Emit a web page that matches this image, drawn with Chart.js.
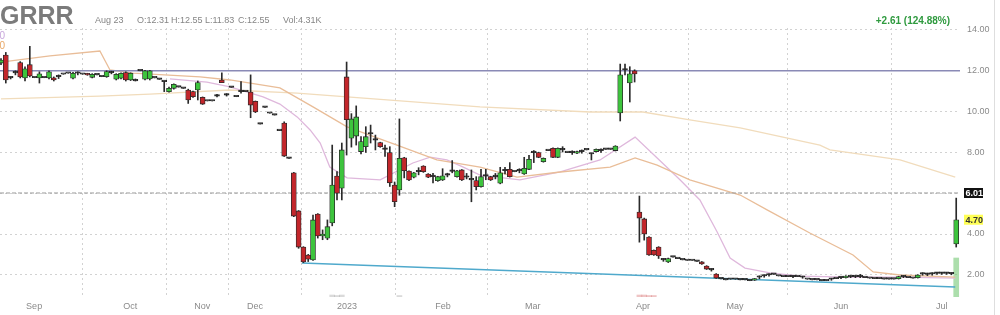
<!DOCTYPE html>
<html>
<head>
<meta charset="utf-8">
<script src="https://cdn.jsdelivr.net/npm/chart.js@4.4.0/dist/chart.umd.min.js"></script>
<style>
  html, body { margin: 0; padding: 0; background: #fff; }
  canvas { display: block; }
</style>
</head>
<body>
<canvas id="grafico" width="1000" height="315"></canvas>
<script>
// eixo x: um slot por pregão, meses nas posições abaixo
const monthLabels = ['Sep', 'Oct', 'Nov', 'Dec', '2023', 'Feb', 'Mar', 'Apr', 'May', 'Jun', 'Jul'];
const monthSlots = [6.9, 26.9, 41.9, 52.9, 72.1, 92.1, 110.8, 133.75, 152.9, 175, 196];
const yTicks = [2, 4, 6, 8, 10, 12, 14];

const opens = [
  12.38, 12.77, 11.65, 11.9, 12.4, 11.65, 12.3, 11.66, 11.65, 11.66,
  11.65, 11.66, 11.71, 11.83, 11.88, 11.64, 11.88, 11.83, 11.85, 11.68,
  11.8, 11.71, 11.71, 11.91, 11.59, 11.64, 11.91, 11.55, 11.51, 12.0,
  11.59, 11.6, 11.65, 11.58, 11.47, 10.98, 11.14, 11.2, 11.14, 11.06,
  10.98, 11.06, 10.7, 10.52, 10.52, 10.76, 11.55, 10.81, 11.19, 10.73,
  10.98, 10.98, 10.96, 10.5, 9.39, 10.21, 9.92, 9.83, 9.07, 9.44,
  7.71, 7.0, 5.13, 3.36, 2.97, 2.73, 4.98, 3.9, 3.79, 4.54,
  6.84, 6.25, 11.7, 8.7, 8.8, 8.04, 8.28, 8.9, 8.6, 8.48,
  8.15, 7.99, 6.4, 6.16, 7.74, 7.09, 6.78, 7.05, 7.33, 6.94,
  6.81, 6.61, 6.65, 6.89, 7.07, 6.81, 7.14, 6.78, 6.65, 6.62,
  6.32, 6.84, 6.81, 6.81, 6.49, 7.1, 7.17, 7.05, 7.1, 6.94,
  7.17, 7.99, 7.99, 7.54, 8.09, 8.2, 7.76, 8.12, 7.99, 7.99,
  7.96, 8.04, 8.12, 7.92, 8.04, 8.09, 8.15, 8.15, 8.09, 9.93,
  12.04, 11.4, 12.0, 5.08, 4.74, 3.85, 3.2, 3.36, 2.73, 2.63,
  2.87, 2.79, 2.73, 2.7, 2.7, 2.66, 2.63, 2.43, 2.24, 2.04,
  1.8, 1.75, 1.78, 1.78, 1.75, 1.75, 1.71, 1.74, 1.88, 1.94,
  1.99, 2.02, 1.94, 1.91, 1.91, 1.91, 1.91, 1.88, 1.78, 1.75,
  1.75, 1.71, 1.71, 1.78, 1.81, 1.86, 1.86, 1.91, 1.91, 1.91,
  1.86, 1.83, 1.81, 1.81, 1.79, 1.79, 1.79, 1.81, 1.91, 1.86,
  1.83, 1.86, 2.04, 2.02, 2.04, 2.07, 2.07, 2.07, 2.05, 3.51
];
const highs = [
  12.6, 12.9, 11.7, 12.0, 12.45, 12.2, 13.2, 11.66, 11.95, 11.66,
  12.0, 11.7, 11.8, 11.83, 11.88, 11.92, 11.95, 11.83, 11.88, 11.86,
  11.8, 11.71, 12.0, 11.98, 11.86, 11.9, 11.95, 11.9, 11.6, 12.0,
  12.02, 12.02, 11.65, 11.58, 11.5, 11.2, 11.36, 11.2, 11.14, 11.1,
  11.0, 11.5, 10.72, 10.52, 10.52, 10.85, 11.9, 10.88, 11.19, 10.73,
  11.47, 10.98, 11.8, 10.52, 9.39, 10.21, 9.92, 9.83, 9.07, 9.5,
  7.71, 7.02, 5.15, 3.38, 3.0, 4.93, 5.0, 4.2, 4.69, 8.36,
  7.06, 8.46, 12.43, 9.9, 10.28, 8.77, 9.26, 9.34, 8.85, 8.5,
  8.36, 8.28, 6.55, 9.64, 7.76, 7.1, 7.02, 7.25, 7.35, 6.96,
  6.98, 6.83, 7.2, 6.98, 7.6, 7.12, 7.16, 6.97, 7.14, 6.81,
  7.17, 7.17, 6.83, 6.97, 7.27, 7.27, 7.5, 7.05, 7.2, 7.76,
  7.86, 8.09, 8.01, 7.73, 8.09, 8.22, 8.22, 8.28, 7.99, 8.08,
  8.06, 8.12, 8.12, 7.95, 8.17, 8.18, 8.15, 8.15, 8.33, 12.33,
  12.33, 12.2, 12.05, 5.86, 4.78, 3.87, 3.22, 3.38, 2.8, 2.82,
  2.87, 2.79, 2.73, 2.7, 2.7, 2.66, 2.65, 2.45, 2.3, 2.06,
  1.8, 1.75, 1.78, 1.78, 1.75, 1.75, 1.71, 1.82, 1.95, 2.0,
  2.05, 2.02, 1.94, 1.91, 1.91, 1.96, 1.91, 1.93, 1.78, 1.75,
  1.75, 1.71, 1.71, 1.83, 1.81, 1.9, 1.96, 1.96, 1.96, 2.02,
  1.86, 1.83, 1.81, 1.81, 1.79, 1.79, 1.79, 1.93, 1.96, 1.86,
  1.83, 2.01, 2.1, 2.08, 2.1, 2.12, 2.12, 2.12, 2.1, 5.76
];
const lows = [
  12.3, 11.4, 11.6, 11.8, 11.65, 11.5, 11.7, 11.66, 11.4, 11.66,
  11.6, 11.5, 11.62, 11.83, 11.88, 11.6, 11.8, 11.83, 11.78, 11.65,
  11.8, 11.71, 11.68, 11.85, 11.55, 11.6, 11.5, 11.52, 11.5, 12.0,
  11.55, 11.55, 11.65, 11.58, 10.98, 10.95, 11.1, 11.2, 11.14, 10.4,
  10.7, 10.57, 10.35, 10.52, 10.52, 10.72, 11.42, 10.76, 11.19, 10.73,
  10.9, 10.98, 9.7, 9.95, 9.39, 10.21, 9.92, 9.83, 9.07, 7.8,
  7.71, 4.85, 3.3, 2.6, 2.65, 2.7, 3.8, 3.72, 3.72, 4.4,
  5.67, 5.67, 7.87, 8.26, 8.36, 7.92, 8.0, 8.46, 8.12, 8.25,
  7.8, 6.33, 5.34, 5.9, 6.75, 6.62, 6.75, 6.9, 7.02, 6.76,
  6.5, 6.58, 6.62, 6.8, 7.0, 6.78, 6.62, 6.7, 5.58, 6.16,
  6.3, 6.66, 6.62, 6.7, 6.46, 6.95, 6.79, 7.05, 7.0, 6.92,
  7.15, 7.5, 7.74, 7.52, 8.09, 7.74, 7.74, 8.02, 7.99, 7.9,
  7.94, 7.96, 8.12, 7.63, 8.02, 8.0, 8.15, 8.15, 8.07, 9.54,
  11.8, 10.47, 11.45, 3.6, 3.7, 2.95, 2.95, 2.8, 2.66, 2.6,
  2.87, 2.79, 2.73, 2.7, 2.7, 2.66, 2.51, 2.26, 2.18, 1.82,
  1.8, 1.75, 1.78, 1.78, 1.75, 1.75, 1.71, 1.72, 1.8, 1.88,
  1.93, 2.02, 1.94, 1.91, 1.91, 1.86, 1.91, 1.83, 1.78, 1.75,
  1.75, 1.71, 1.71, 1.73, 1.81, 1.81, 1.84, 1.86, 1.86, 1.86,
  1.86, 1.83, 1.81, 1.81, 1.79, 1.79, 1.79, 1.79, 1.86, 1.86,
  1.83, 1.84, 1.98, 1.96, 1.98, 2.02, 2.02, 2.02, 2.0, 3.36
];
const closes = [
  12.53, 11.55, 11.65, 11.9, 11.7, 12.1, 11.75, 11.66, 11.85, 11.66,
  11.95, 11.55, 11.71, 11.83, 11.88, 11.88, 11.88, 11.83, 11.8, 11.83,
  11.8, 11.71, 11.96, 11.91, 11.83, 11.88, 11.55, 11.88, 11.51, 12.0,
  12.0, 12.0, 11.65, 11.58, 11.47, 11.14, 11.34, 11.2, 11.14, 10.57,
  10.73, 11.42, 10.37, 10.52, 10.52, 10.76, 11.42, 10.81, 11.19, 10.73,
  10.98, 10.98, 10.32, 9.98, 9.39, 10.21, 9.92, 9.83, 9.07, 7.82,
  7.71, 4.88, 3.36, 2.63, 2.77, 4.69, 3.9, 4.0, 4.36, 6.4,
  6.0, 8.12, 9.6, 9.64, 9.74, 8.53, 8.77, 8.9, 8.6, 8.28,
  8.15, 6.51, 5.58, 7.71, 7.1, 6.65, 7.0, 7.05, 7.05, 6.78,
  6.81, 6.81, 6.85, 6.89, 7.07, 7.1, 6.65, 6.78, 6.65, 6.32,
  6.81, 6.84, 6.65, 6.81, 7.0, 7.1, 6.81, 7.05, 7.1, 7.22,
  7.66, 7.99, 7.76, 7.71, 8.09, 7.76, 8.2, 8.12, 7.99, 7.99,
  8.04, 8.04, 8.12, 7.92, 8.15, 8.09, 8.15, 8.15, 8.31, 11.8,
  12.04, 11.85, 11.85, 4.78, 4.0, 2.97, 2.97, 2.92, 2.73, 2.8,
  2.87, 2.79, 2.73, 2.7, 2.7, 2.66, 2.53, 2.28, 2.24, 1.84,
  1.8, 1.75, 1.78, 1.78, 1.75, 1.75, 1.71, 1.8, 1.88, 1.94,
  1.99, 2.02, 1.94, 1.91, 1.91, 1.91, 1.91, 1.88, 1.78, 1.75,
  1.75, 1.71, 1.71, 1.78, 1.81, 1.86, 1.94, 1.91, 1.91, 1.91,
  1.86, 1.83, 1.81, 1.81, 1.79, 1.79, 1.79, 1.91, 1.91, 1.86,
  1.83, 1.99, 2.04, 2.02, 2.04, 2.07, 2.07, 2.07, 2.05, 4.70
];

// volume: só as barras que aparecem
const volIdx = [69, 70, 71, 83, 133, 134, 135, 136, 199];
const volVals = [2, 1.5, 2, 1.5, 2, 2, 1.5, 1.5, 39];

// médias móveis [slot, valor]
const maTan = [[0, 10.62], [20.6, 10.76], [31, 10.86], [47.7, 11.06], [61.7, 10.91], [72.1, 10.72],
  [99.8, 10.23], [122.7, 9.98], [133.75, 9.98], [143.5, 9.59], [154, 9.2], [170.6, 8.36],
  [172.7, 8.12], [187.3, 7.63], [198.8, 6.79]];
const maOrange = [[0, 12.43], [10.2, 12.73], [20.6, 12.97], [22.7, 12.04], [27.5, 11.89], [41.5, 11.7],
  [47.7, 11.55], [58.1, 11.16], [65, 10.23], [72.1, 9.25], [82.5, 8.36], [90.8, 7.63], [99.8, 7.28],
  [107.5, 6.79], [116.5, 7.04], [126.9, 7.28], [132.1, 7.73], [136.7, 7.38], [143.5, 6.65],
  [154, 5.91], [159.6, 5.18], [168.5, 4.05], [177.5, 2.97], [181.7, 2.14], [187.3, 1.99], [198.8, 1.89]];
const maPink = [[35.2, 11.6], [42.9, 11.45], [47.7, 11.21], [54.6, 10.72], [58.1, 10.37], [61.7, 9.74],
  [64.4, 9.1], [66.5, 8.46], [68.5, 7.28], [72.1, 6.75], [79, 6.65], [85.8, 7.48], [89.4, 7.77],
  [92.9, 7.63], [96.3, 7.28], [99.8, 6.89], [108.1, 6.65], [116.5, 7.04], [124.8, 7.63], [132.1, 8.75],
  [136.7, 7.73], [141.5, 6.65], [145.6, 5.67], [149.2, 4.1], [151.9, 2.82], [155, 2.33], [160.2, 2.09],
  [166.5, 1.94], [176.9, 1.89], [187.3, 1.89], [198.8, 1.84]];

const resistencia = 12.00;
const linhaUltimo = 6.01;
const ultimoFech = 4.70;
const tendencia = [[62.7, 2.58], [198.8, 1.40]];

const xMin = -0.21, xMax = 199.79;
const fonte = '"Liberation Sans", Arial, sans-serif';

const pts = arr => arr.map(p => ({ x: p[0], y: p[1] }));

const wicks = highs.map((h, i) => ({ x: i, y: [lows[i], h] }));
const bodies = opens.map((o, i) => ({ x: i, y: [Math.min(o, closes[i]), Math.max(o, closes[i])] }));
const bodyColors = opens.map((o, i) => closes[i] > o ? '#3dc43d' : closes[i] < o ? '#c3262b' : '#222');
const volData = volIdx.map((v, k) => ({ x: v, y: volVals[k] }));
const volColors = volIdx.map(i => i === 199 ? 'rgba(90,190,90,0.5)' : i > 130 ? 'rgba(215,110,110,0.4)' : 'rgba(150,150,150,0.35)');

const decor = {
  id: 'decor',
  afterDraw(chart) {
    const ctx = chart.ctx;
    const y = chart.scales.y;
    ctx.save();
    ctx.textBaseline = 'alphabetic';
    ctx.fillStyle = '#7b7b7b';
    ctx.font = 'bold 25px ' + fonte;
    ctx.fillText('GRRR', 0, 24);
    ctx.fillStyle = '#858585';
    ctx.font = '9px ' + fonte;
    ctx.fillText('Aug 23', 95, 23);
    ctx.fillText('O:12.31', 137, 23);
    ctx.fillText('H:12.55', 171, 23);
    ctx.fillText('L:11.83', 205, 23);
    ctx.fillText('C:12.55', 238, 23);
    ctx.fillText('Vol:4.31K', 283, 23);
    ctx.fillStyle = '#2f9a3f';
    ctx.font = 'bold 10px ' + fonte;
    ctx.textAlign = 'right';
    ctx.fillText('+2.61 (124.88%)', 950, 24);

    // legendas das médias cortadas na borda
    ctx.font = '10px ' + fonte;
    ctx.fillStyle = '#c9a8dc';
    ctx.fillText('10', 5, 39);
    ctx.fillStyle = '#e8a868';
    ctx.fillText('10', 5, 49);

    // caixas de valor no eixo
    ctx.textAlign = 'left';
    ctx.textBaseline = 'middle';
    ctx.font = 'bold 9px ' + fonte;
    let py = y.getPixelForValue(linhaUltimo);
    ctx.fillStyle = '#111';
    ctx.fillRect(964, py - 5, 19, 10);
    ctx.fillStyle = '#fff';
    ctx.fillText('6.01', 965.5, py + 0.5);
    py = y.getPixelForValue(ultimoFech);
    ctx.fillStyle = '#ffff55';
    ctx.fillRect(964, py - 5, 19, 10);
    ctx.fillStyle = '#333';
    ctx.fillText('4.70', 965.5, py + 0.5);

    ctx.strokeStyle = '#dedede';
    ctx.lineWidth = 1;
    ctx.beginPath();
    ctx.moveTo(994.5, 0);
    ctx.lineTo(994.5, 315);
    ctx.stroke();
    ctx.restore();
  }
};

new Chart(document.getElementById('grafico'), {
  type: 'bar',
  data: {
    datasets: [
      { type: 'line', data: pts(maTan), borderColor: '#f1dcbc', borderWidth: 1.3, pointRadius: 0, order: 6 },
      { type: 'line', data: pts(maOrange), borderColor: '#e9bd98', borderWidth: 1.3, pointRadius: 0, order: 5 },
      { type: 'line', data: pts(maPink), borderColor: '#dfb8dc', borderWidth: 1.3, pointRadius: 0, order: 5 },
      { type: 'line', data: [{ x: xMin, y: resistencia }, { x: xMax, y: resistencia }], borderColor: '#8a8ab6', borderWidth: 1.6, pointRadius: 0, order: 4 },
      { type: 'line', data: [{ x: xMin, y: linhaUltimo }, { x: xMax, y: linhaUltimo }], borderColor: '#9a9a9a', borderWidth: 1, borderDash: [4, 2], pointRadius: 0, order: 4 },
      { type: 'line', data: pts(tendencia), borderColor: '#4fa9cc', borderWidth: 1.5, pointRadius: 0, order: 4 },
      { data: volData, yAxisID: 'yv', backgroundColor: volColors, barThickness: 5, grouped: false, order: 7 },
      { data: wicks, backgroundColor: '#2a2a2a', barThickness: 1, grouped: false, order: 2 },
      { data: bodies, backgroundColor: bodyColors, borderColor: '#2a2a2a', borderWidth: 0.8, borderSkipped: false,
        barThickness: 5, minBarLength: 1.5, grouped: false, order: 1 }
    ]
  },
  options: {
    responsive: false,
    animation: false,
    devicePixelRatio: 1,
    layout: { padding: { top: 28, left: 0, right: 0, bottom: 0 } },
    plugins: { legend: { display: false }, tooltip: { enabled: false } },
    scales: {
      x: {
        type: 'linear', min: xMin, max: xMax, offset: false,
        afterBuildTicks: s => { s.ticks = monthSlots.map(v => ({ value: v })); },
        afterFit: s => { s.height = 18; },
        ticks: { callback: (v, i) => monthLabels[i], color: '#8a8a8a', font: { size: 9, family: fonte },
          padding: 4, autoSkip: false, maxRotation: 0 },
        grid: { color: '#d2d2d2', drawTicks: false },
        border: { display: false, dash: [2, 3] }
      },
      y: {
        position: 'right', min: 0.912, max: 14.098,
        afterBuildTicks: s => { s.ticks = yTicks.map(v => ({ value: v })); },
        afterFit: s => { s.width = 40; },
        ticks: { callback: v => v === 6 ? '' : v.toFixed(2), color: '#8a8a8a', font: { size: 9, family: fonte }, padding: 7 },
        grid: { color: '#d2d2d2', drawTicks: false },
        border: { display: false, dash: [2, 3] }
      },
      yv: { display: false, min: 0, max: 269 }
    }
  },
  plugins: [decor]
});
</script>
</body>
</html>
